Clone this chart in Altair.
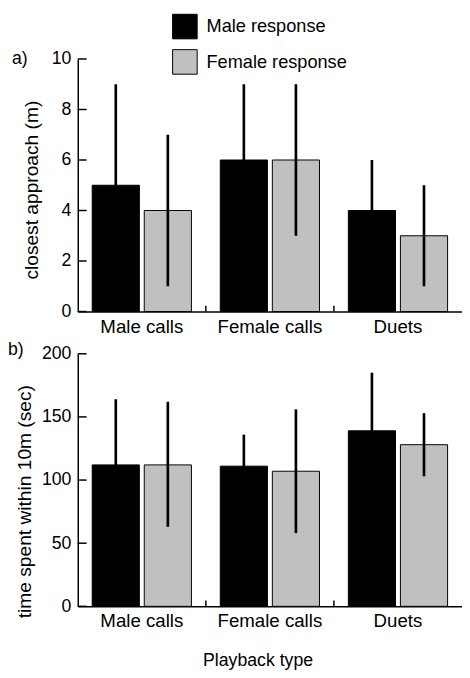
import altair as alt
import pandas as pd

categories = ["Male calls", "Female calls", "Duets"]
responses = ["Male response", "Female response"]

# closest approach (m): order = category x response
approach_mean = [5, 4, 6, 6, 4, 3]
approach_low = [1, 1, 3, 3, 2, 1]
approach_high = [9, 7, 9, 9, 6, 5]
approach_ticks = [0, 2, 4, 6, 8, 10]

# time spent within 10m (sec)
time_mean = [112, 112, 111, 107, 139, 128]
time_low = [61, 63, 86, 58, 93, 103]
time_high = [164, 162, 136, 156, 185, 153]
time_ticks = [0, 50, 100, 150, 200]

FONT = "Liberation Sans"
W, H = 391, 257

rows_cat = [c for c in categories for _ in responses]
rows_resp = [r for _ in categories for r in responses]


def make_df(mean, low, high):
    return pd.DataFrame({"cat": rows_cat, "resp": rows_resp,
                         "mean": mean, "low": low, "high": high})


def panel(df, ticks, ymax, ytitle, title_x, title_y, letter, letter_dx,
          letter_dy, show_legend, xtitle):
    xaxis_kw = dict(labelAngle=0, ticks=False, labelFontSize=19, labelFont=FONT,
                    labelColor="black", labelPadding=6, domainColor="black",
                    domainWidth=1.5, grid=False)
    if xtitle:
        xaxis_kw.update(title=xtitle, titleFont=FONT, titleFontSize=18,
                        titleFontWeight="normal", titleColor="black",
                        titleX=183, titleY=46, titleBaseline="top")
    else:
        xaxis_kw.update(title=None)
    xaxis = alt.Axis(**xaxis_kw)
    xscale = alt.Scale(domain=categories, paddingInner=0, paddingOuter=0)
    x = alt.X("cat:N", sort=categories, scale=xscale, axis=xaxis)
    xoff = alt.XOffset("resp:N", sort=responses,
                       scale=alt.Scale(domain=responses, paddingInner=0.094,
                                       paddingOuter=0.277))
    yaxis = alt.Axis(values=ticks, title=ytitle, ticks=False, grid=False,
                     labelFont=FONT, labelFontSize=18, labelColor="black",
                     labelPadding=7, domainColor="black", domainWidth=1.5,
                     titleFont=FONT, titleFontSize=19.5, titleFontWeight="normal",
                     titleColor="black", titleX=title_x, titleY=title_y,
                     titleBaseline="alphabetic", titleAngle=270)
    yscale = alt.Scale(domain=[0, ymax], nice=False)

    if show_legend:
        legend = alt.Legend(orient="none", legendX=96, legendY=-46, title=None,
                            symbolType="square", symbolSize=625,
                            symbolStrokeColor="black", symbolStrokeWidth=1,
                            labelFont=FONT, labelFontSize=18.5,
                            labelColor="black", labelOffset=9, rowPadding=6)
    else:
        legend = None
    color = alt.Color("resp:N", sort=responses,
                      scale=alt.Scale(domain=responses,
                                      range=["#000000", "#c0c0c0"]),
                      legend=legend)

    base = alt.Chart(df)
    bars = base.mark_bar(stroke="black", strokeWidth=1).encode(
        x=x, xOffset=xoff,
        y=alt.Y("mean:Q", scale=yscale, axis=yaxis),
        color=color)
    errs = base.mark_rule(color="black", strokeWidth=2.7).encode(
        x=x, xOffset=xoff,
        y=alt.Y("low:Q", scale=yscale, axis=yaxis), y2="high:Q")
    ytick = alt.Chart(pd.DataFrame({"v": ticks})).mark_rule(
        color="black", strokeWidth=1.5).encode(
        y=alt.Y("v:Q", scale=yscale, axis=yaxis),
        x=alt.value(0), x2=alt.value(9))
    xtick = alt.Chart(pd.DataFrame({"cat": categories[1:]})).mark_rule(
        color="black", strokeWidth=1.5).encode(
        x=alt.X("cat:N", sort=categories, scale=xscale, axis=xaxis,
                bandPosition=0),
        y=alt.value(H), y2=alt.value(H - 6))

    return alt.layer(bars, errs, ytick, xtick).properties(
        width=W, height=H,
        title=alt.TitleParams(letter, anchor="start", frame="group",
                              dx=letter_dx, dy=letter_dy, offset=0,
                              font=FONT, fontSize=18, fontWeight="normal",
                              color="black"))


pa = panel(make_df(approach_mean, approach_low, approach_high), approach_ticks,
           10, "closest approach (m)", -41, 133, "a)", -67, 55, True, None)
pb = panel(make_df(time_mean, time_low, time_high), time_ticks, 200,
           "time spent within 10m (sec)", -48, 150, "b)", -71, 14.5, False,
           "Playback type")

chart = alt.vconcat(pa, pb, spacing=5).resolve_scale(
    color="independent").properties(
    padding={"left": 0, "top": 0, "right": 0, "bottom": 0}
).configure_view(stroke=None)

chart.save("out.html", embed_options={"renderer": "svg", "actions": False})
